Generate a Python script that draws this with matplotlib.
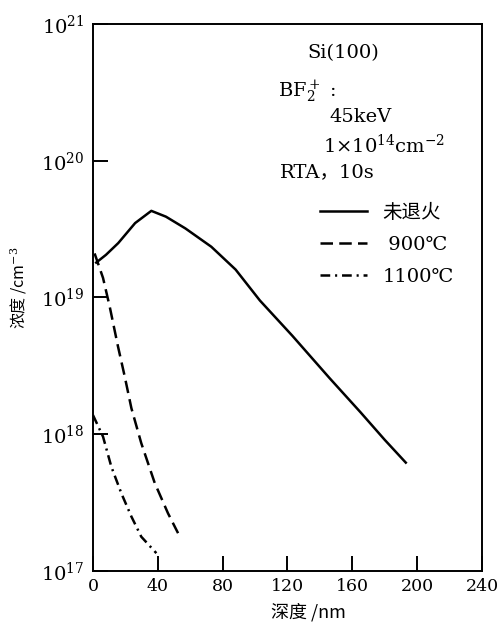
import numpy as np
import matplotlib
matplotlib.use('Agg')
import matplotlib.pyplot as plt
from matplotlib.ticker import FixedLocator, NullLocator

plt.rcParams['font.family'] = ['DejaVu Serif', 'Noto Sans CJK SC']
plt.rcParams['mathtext.fontset'] = 'dejavuserif'
plt.rcParams['lines.scale_dashes'] = False

# depth (nm) / concentration (cm^-3)
depth_asimp = [2, 8, 15.6, 26, 36, 45, 57, 73, 88, 103, 123, 146, 165, 180, 193]
conc_asimp = [1.8e19, 2.05e19, 2.5e19, 3.5e19, 4.3e19, 3.9e19, 3.2e19, 2.35e19,
              1.6e19, 9.5e18, 5.25e18, 2.57e18, 1.45e18, 9.1e17, 6.2e17]

depth_900 = [1.0, 6.2, 10.3, 15.4, 19.6, 23.7, 29.8, 38.1, 46.3, 52.5]
conc_900 = [2.1e19, 1.39e19, 8.6e18, 4.4e18, 2.64e18, 1.55e18, 8.6e17, 4.4e17,
            2.64e17, 1.89e17]

depth_1100 = [0, 6.2, 11.3, 17.5, 23.7, 29.8, 39.1]
conc_1100 = [1.38e18, 9.6e17, 5.8e17, 3.7e17, 2.5e17, 1.78e17, 1.35e17]

labels = ['未退火', ' 900℃', '1100℃']
x_ticks = [0, 40, 80, 120, 160, 200, 240]
y_ticks = [1e17, 1e18, 1e19, 1e20, 1e21]
y_tick_labels = [r'10$^{17}$', r'10$^{18}$', r'10$^{19}$', r'10$^{20}$', r'10$^{21}$']

fig = plt.figure(figsize=(4.98, 6.28), dpi=100)
ax = fig.add_axes([0.1867, 0.0908, 0.7811, 0.8710])

lw = 1.8
ax.plot(depth_asimp, conc_asimp, color='black', lw=lw, label=labels[0])
ax.plot(depth_900, conc_900, color='black', lw=lw, dashes=(9, 4.5), label=labels[1])
ax.plot(depth_1100, conc_1100, color='black', lw=lw, dashes=(7, 3.5, 1.5, 3.5), label=labels[2])

ax.set_yscale('log')
ax.set_xlim(0, 240)
ax.set_ylim(1e17, 1e21)
ax.xaxis.set_major_locator(FixedLocator(x_ticks))
ax.yaxis.set_major_locator(FixedLocator(y_ticks))
ax.yaxis.set_minor_locator(NullLocator())
ax.set_yticklabels(y_tick_labels)
ax.tick_params(direction='in', length=11, width=1.4, top=False, right=False)
ax.tick_params(axis='x', pad=5, labelsize=12.5)
ax.tick_params(axis='y', pad=6, labelsize=14)
for sp in ax.spines.values():
    sp.set_linewidth(1.4)

ax.set_xlabel('深度 /nm', fontsize=13, family=['Noto Sans CJK SC', 'DejaVu Serif'])
ax.xaxis.set_label_coords(0.553, -0.058)
ax.set_ylabel(r'浓度 /cm$^{-3}$', fontsize=11.5, family=['Noto Sans CJK SC', 'DejaVu Serif'])
ax.yaxis.set_label_coords(-0.165, 0.517)

# annotation block
fs = 14
ax.text(0.55, 0.947, 'Si(100)', transform=ax.transAxes, fontsize=fs, va='center')
ax.text(0.476, 0.876, r'BF$_2^+$ :', transform=ax.transAxes, fontsize=fs, va='center')
ax.text(0.609, 0.83, '45keV', transform=ax.transAxes, fontsize=fs, va='center')
ax.text(0.591, 0.779, r'1$\times$10$^{14}$cm$^{-2}$', transform=ax.transAxes,
        fontsize=fs, va='center')
ax.text(0.481, 0.729, 'RTA，10s', transform=ax.transAxes, fontsize=fs, va='center')

ax.legend(loc='upper left', bbox_to_anchor=(0.584, 0.672), frameon=False,
          fontsize=14, handlelength=2.4, handletextpad=0.8, labelspacing=0.72,
          borderpad=0, borderaxespad=0)

fig.savefig('out.png', dpi=100)
